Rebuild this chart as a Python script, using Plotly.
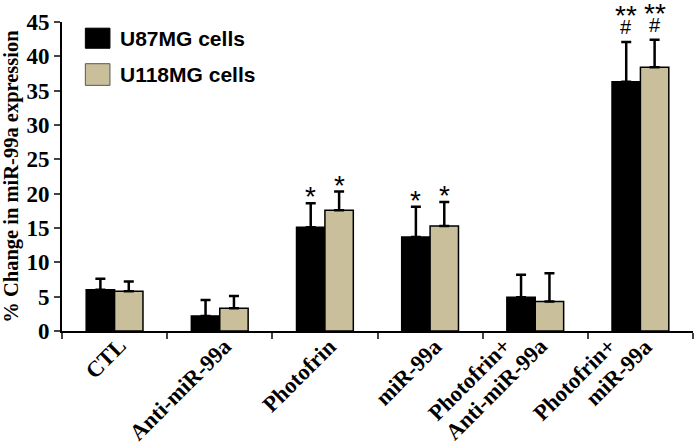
import plotly.graph_objs as go

categories = ["CTL", "Anti-miR-99a", "Photofrin", "miR-99a",
              "Photofrin+<br>Anti-miR-99a", "Photofrin+<br>miR-99a"]
u87_vals = [6.0, 2.2, 15.1, 13.7, 4.9, 36.3]
u87_err = [1.6, 2.3, 3.5, 4.4, 3.3, 5.8]
u118_vals = [5.8, 3.3, 17.6, 15.3, 4.3, 38.4]
u118_err = [1.4, 1.8, 2.7, 3.5, 4.1, 4.0]
u87_stars = ["", "", "*", "*", "", "**"]
u118_stars = ["", "", "*", "*", "", "**"]
u87_hash = ["", "", "", "", "", "#"]
u118_hash = ["", "", "", "", "", "#"]

serif = "Liberation Serif, Times New Roman, serif"
sans = "Liberation Sans, Arial, sans-serif"
tan = "#C9C09B"

trace1 = go.Bar(x=categories, y=u87_vals, name="U87MG cells",
                marker={'color': 'black', 'line': {'color': 'black', 'width': 1.5}},
                error_y={'type': 'data', 'array': u87_err, 'arrayminus': [0] * 6,
                         'symmetric': False, 'color': 'black', 'thickness': 2.5, 'width': 5})
trace2 = go.Bar(x=categories, y=u118_vals, name="U118MG cells",
                marker={'color': tan, 'line': {'color': 'black', 'width': 1.5}},
                error_y={'type': 'data', 'array': u118_err, 'arrayminus': [0] * 6,
                         'symmetric': False, 'color': 'black', 'thickness': 2.5, 'width': 5})

# significance marks above the error caps
off = 0.135
annotations = []
for i in range(len(categories)):
    for shift, vals, errs, stars, hashes in [(-off, u87_vals, u87_err, u87_stars, u87_hash),
                                             (off, u118_vals, u118_err, u118_stars, u118_hash)]:
        top = vals[i] + errs[i]
        star_shift = -11
        if hashes[i]:
            annotations.append(dict(x=i + shift, y=top, xref='x', yref='y', text=hashes[i],
                                    showarrow=False, yanchor='bottom', yshift=2,
                                    font={'family': sans, 'size': 20, 'color': 'black'}))
            star_shift = 9
        if stars[i]:
            annotations.append(dict(x=i + shift, y=top, xref='x', yref='y', text=stars[i],
                                    showarrow=False, yanchor='bottom', yshift=star_shift,
                                    font={'family': sans, 'size': 28, 'color': 'black'}))

# rotated category labels, one annotation per text line so the
# stacked lines step sideways like the original
for i, cat in enumerate(categories):
    lines = cat.split("<br>")
    for k, line in enumerate(lines):
        back = len(lines) - 1 - k
        annotations.append(dict(x=i, y=0, xref='x', yref='y', text="<b>" + line + "</b>",
                                showarrow=False, textangle=-45, xanchor='right', yanchor='top',
                                xshift=19 - 36 * back, yshift=0,
                                font={'family': serif, 'size': 22.5, 'color': 'black'}))

# legend drawn by hand to get the large swatches
shapes = [
    dict(type='rect', xref='paper', yref='paper', x0=0.037, x1=0.076, y0=0.915, y1=0.98,
         fillcolor='black', line={'color': 'black', 'width': 1}),
    dict(type='rect', xref='paper', yref='paper', x0=0.037, x1=0.076, y0=0.795, y1=0.865,
         fillcolor=tan, line={'color': '#555', 'width': 1}),
]
for yy, txt in [(0.947, "U87MG cells"), (0.83, "U118MG cells")]:
    annotations.append(dict(x=0.088, y=yy, xref='paper', yref='paper', text="<b>" + txt + "</b>",
                            showarrow=False, xanchor='left', yanchor='middle',
                            font={'family': sans, 'size': 21, 'color': 'black'}))

layout = go.Layout(
    width=698, height=447, barmode='group', bargap=0.46, bargroupgap=0,
    showlegend=False, plot_bgcolor='white', paper_bgcolor='white',
    margin={'l': 62, 'r': 5, 't': 22, 'b': 116},
    xaxis={'tickson': 'boundaries', 'ticks': 'outside', 'ticklen': 6, 'tickwidth': 2,
           'showline': True, 'linecolor': 'black', 'linewidth': 2,
           'automargin': False, 'showticklabels': False, 'showgrid': False},
    yaxis={'range': [0, 45], 'ticks': 'outside', 'ticklen': 6, 'tickwidth': 2,
           'showline': True, 'linecolor': 'black', 'linewidth': 2, 'showgrid': False,
           'zeroline': False, 'automargin': False,
           'tickfont': {'family': serif, 'size': 23, 'color': 'black'},
           'title': {'text': "<b>% Change in miR-99a expression</b>", 'standoff': 4,
                     'font': {'family': serif, 'size': 20.5, 'color': 'black'}}},
    annotations=annotations, shapes=shapes)

# bold tick labels
layout.yaxis.tickvals = list(range(0, 50, 5))
layout.yaxis.ticktext = ["<b>%d</b>" % v for v in range(0, 50, 5)]

fig = go.Figure(data=[trace1, trace2], layout=layout)
# drop the default page margin so the figure sits at the window corner
fig.write_html("out.html", config={'displayModeBar': False},
               post_script="document.body.style.margin='0';")
